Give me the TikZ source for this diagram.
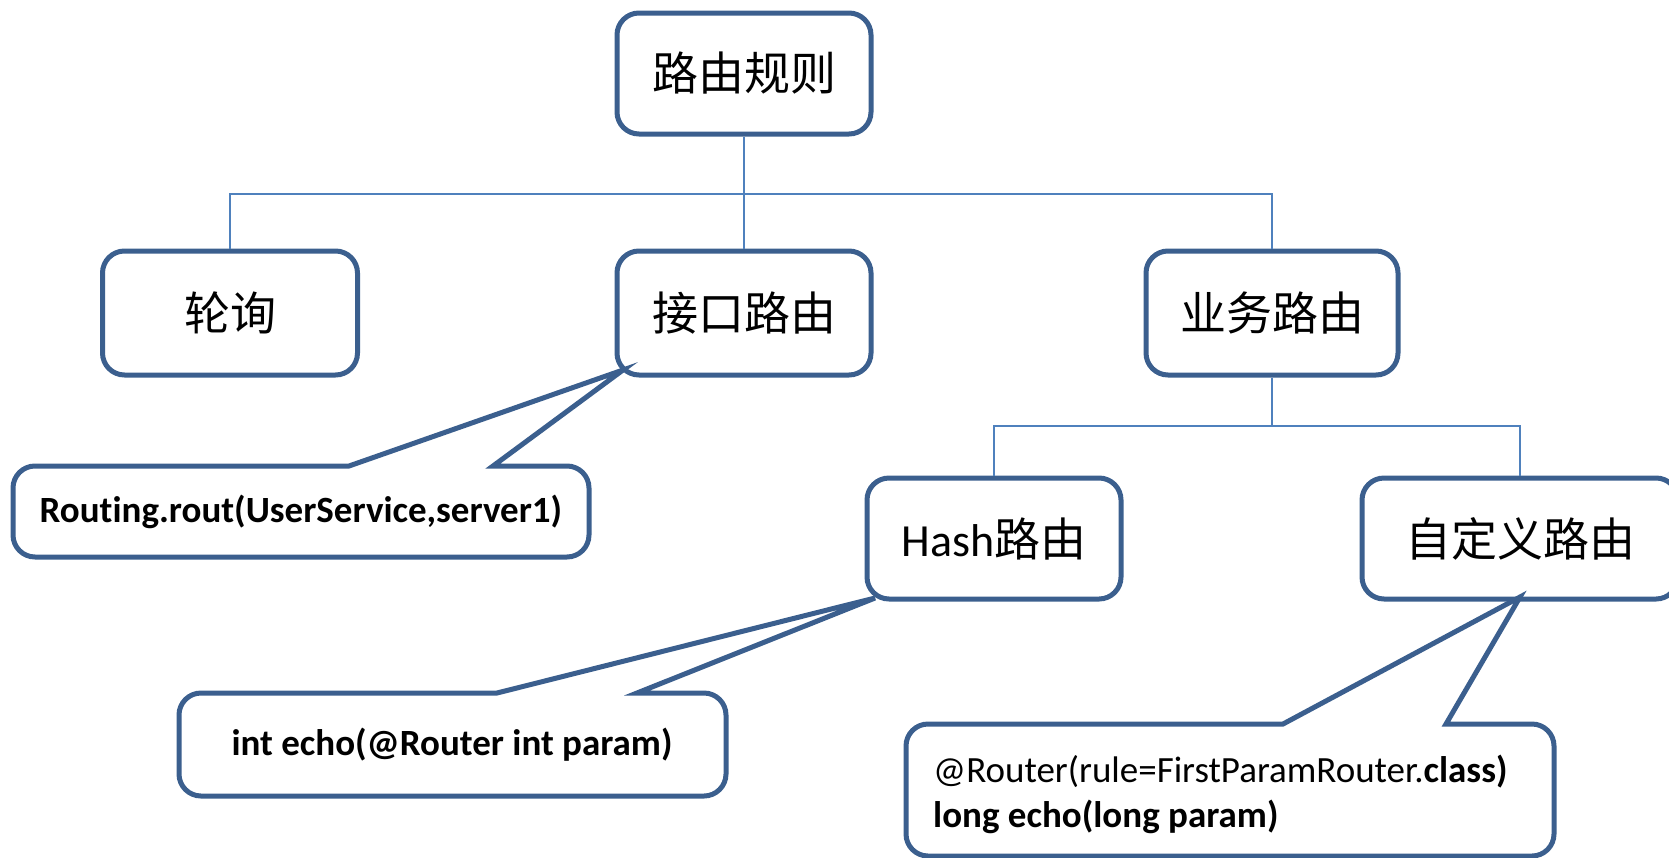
\documentclass[tikz,border=0pt]{standalone}
\usepackage{fontspec}
\setmainfont{Carlito}[Ligatures=NoCommon]
\newfontfamily\cjk{Noto Sans CJK SC}
\definecolor{bord}{HTML}{3B5F8E}
\definecolor{conn}{HTML}{4F81BD}
\begin{document}
\begin{tikzpicture}[x=1pt,y=-1pt,
  box/.style={draw=bord, line width=5pt, rounded corners=22pt, fill=white, inner sep=0pt, font=\cjk\fontsize{46}{50}\selectfont},
  link/.style={draw=conn, line width=2pt},
  cbox/.style={draw=bord, line width=5pt, line join=miter, fill=white},
  code/.style={inner sep=0pt, font=\bfseries\fontsize{37}{45}\selectfont}]
\useasboundingbox (0,0) rectangle (1669,857);

% tree nodes
\node[box, minimum width=254pt, minimum height=121pt] (root) at (744,73.5) {路由规则};
\node[box, minimum width=255pt, minimum height=124pt] (lun) at (230,313) {轮询};
\node[box, minimum width=254pt, minimum height=124pt] (jiekou) at (744,313) {接口路由};
\node[box, minimum width=252pt, minimum height=124pt] (yewu) at (1272,313) {业务路由};
\node[box, minimum width=254pt, minimum height=121pt] (hash) at (994,538.5) {{\fontspec{Carlito}Hash}路由};
\node[box, minimum width=316pt, minimum height=121pt] (zdy) at (1520,538.5) {自定义路由};

% connectors
\coordinate (bus1) at (0,194);
\coordinate (bus2) at (0,426);
\draw[link] (root.south) -- (root.south |- bus1);
\draw[link] (lun.north) |- (yewu.north |- bus1) -- (yewu.north);
\draw[link] (jiekou.north) -- (jiekou.north |- bus1);
\draw[link] (yewu.south) -- (yewu.south |- bus2);
\draw[link] (hash.north) |- (zdy.north |- bus2) -- (zdy.north);

% callout tips
\coordinate (tip1) at (623,370);
\coordinate (tip2) at (875,598);
\coordinate (tip3) at (1520,597);

% callout 1
\draw[cbox] (493,466) [rounded corners=22pt] -- (589,466) -- (589,557) -- (13,557) -- (13,466) [sharp corners] -- (349,466) -- (tip1) -- cycle;
\node[code] (t1) at (301,512) {Routing.rout(UserService,server1)};

% callout 2
\draw[cbox] (637,693) [rounded corners=22pt] -- (726,693) -- (726,796) -- (179,796) -- (179,693) [sharp corners] -- (497,693) -- (tip2) -- cycle;
\node[code] (t2) at (452,745) {int echo(@Router int param)};

% callout 3
\draw[cbox] (1446,724) [rounded corners=22pt] -- (1554,724) -- (1554,856) -- (906,856) -- (906,724) [sharp corners] -- (1283,724) -- (tip3) -- cycle;
\node[code, anchor=west, align=left] (t3) at (933,794) {{\mdseries @Router(rule=FirstParamRouter.}class)\\long echo(long param)};
\end{tikzpicture}
\end{document}
